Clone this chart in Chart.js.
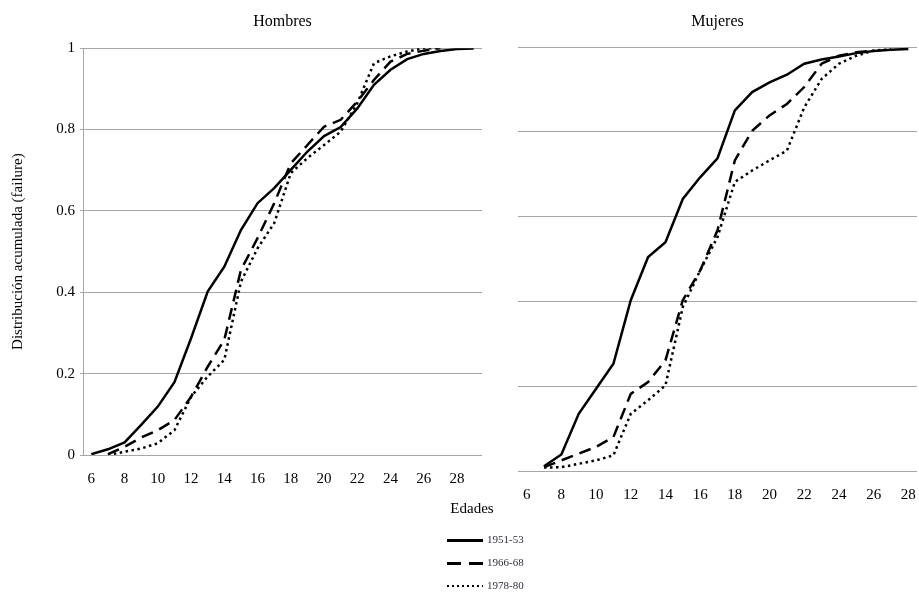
<!DOCTYPE html>
<html>
<head>
<meta charset="utf-8">
<script src="https://cdn.jsdelivr.net/npm/chart.js@4.4.1/dist/chart.umd.min.js"></script>
<style>
    body { margin: 0; background: #fff; width: 919px; height: 595px; position: relative; overflow: hidden; font-family: "Liberation Serif", serif; }
    canvas { position: absolute; top: 0; }
    #legend { position: absolute; left: 420px; top: 500px; width: 110px; }
    #legend .head { text-align: center; font-size: 15px; color: #000; width: 104px; }
    #legend .row { position: absolute; left: 27px; height: 14px; font-size: 11px; color: #2f2f3f; }
    #legend .sample { position: absolute; left: 0; top: 6px; width: 36px; height: 3px; background: #000; }
    #legend .dash { background: repeating-linear-gradient(90deg, #000 0 14px, transparent 14px 22px); }
    #legend .dot { height: 2px; background: repeating-linear-gradient(90deg, #000 0 2px, transparent 2px 5px); }
    #legend .txt { position: absolute; left: 40px; top: 0; white-space: nowrap; }
</style>
</head>
<body>
<canvas id="hombresChart" width="500" height="500" style="left:0"></canvas>
<canvas id="mujeresChart" width="419" height="516" style="left:500px"></canvas>
<div id="legend">
    <div class="head">Edades</div>
    <div class="row" style="top:33px"><div class="sample"></div><div class="txt">1951-53</div></div>
    <div class="row" style="top:56px"><div class="sample dash"></div><div class="txt">1966-68</div></div>
    <div class="row" style="top:79px"><div class="sample dot"></div><div class="txt">1978-80</div></div>
</div>
<script>
// Ages (x axis categories)
const edadesHombres = [6, 7, 8, 9, 10, 11, 12, 13, 14, 15, 16, 17, 18, 19, 20, 21, 22, 23, 24, 25, 26, 27, 28, 29];
const edadesMujeres = [6, 7, 8, 9, 10, 11, 12, 13, 14, 15, 16, 17, 18, 19, 20, 21, 22, 23, 24, 25, 26, 27, 28];

// Cumulative distribution, men
const hombres1951 = [0.002, 0.014, 0.031, 0.074, 0.119, 0.179, 0.287, 0.402, 0.463, 0.553, 0.619, 0.656, 0.701, 0.746, 0.784, 0.806, 0.852, 0.910, 0.947, 0.973, 0.986, 0.993, 0.998, 0.999];
const hombres1966 = [null, 0.002, 0.020, 0.043, 0.061, 0.086, 0.143, 0.217, 0.283, 0.455, 0.533, 0.619, 0.717, 0.762, 0.807, 0.824, 0.869, 0.922, 0.967, 0.986, 0.994, 1.000];
const hombres1978 = [null, 0.000, 0.008, 0.016, 0.029, 0.061, 0.143, 0.193, 0.234, 0.426, 0.508, 0.570, 0.693, 0.730, 0.762, 0.795, 0.865, 0.963, 0.980, 0.992, 1.000, 1.000];

// Cumulative distribution, women
const mujeres1951 = [null, 0.011, 0.039, 0.135, 0.194, 0.253, 0.403, 0.505, 0.540, 0.642, 0.693, 0.738, 0.851, 0.894, 0.917, 0.935, 0.961, 0.971, 0.978, 0.986, 0.991, 0.994, 0.996];
const mujeres1966 = [null, 0.009, 0.025, 0.041, 0.057, 0.080, 0.182, 0.210, 0.261, 0.403, 0.473, 0.568, 0.733, 0.803, 0.839, 0.866, 0.906, 0.961, 0.980, 0.988, 0.992];
const mujeres1978 = [null, 0.008, 0.009, 0.017, 0.025, 0.037, 0.135, 0.167, 0.202, 0.387, 0.473, 0.552, 0.682, 0.709, 0.733, 0.756, 0.858, 0.925, 0.961, 0.980, 0.992, 0.995];

const yTicks = [0, 0.2, 0.4, 0.6, 0.8, 1];
const serif = "'Liberation Serif', 'Times New Roman', serif";
const gridColor = '#a6a6a6';

Chart.defaults.font.family = serif;
Chart.defaults.color = '#000';

function makeDatasets(a, b, c) {
    const common = { borderColor: '#000', borderWidth: 2.5, pointRadius: 0, tension: 0, fill: false, spanGaps: false };
    return [
        Object.assign({ label: '1951-53', data: a }, common),
        Object.assign({ label: '1966-68', data: b, borderDash: [12, 7] }, common),
        Object.assign({ label: '1978-80', data: c, borderDash: [2.5, 3.5] }, common)
    ];
}

function makeOptions(title, showY, yWidth, titleBottom, padRight) {
    return {
        responsive: false,
        animation: false,
        layout: { padding: { left: 0, right: padRight, top: 0, bottom: 0 } },
        plugins: {
            legend: { display: false },
            tooltip: { enabled: false },
            title: {
                display: true, text: title, fullSize: false,
                font: { size: 16, weight: 'normal', family: serif },
                color: '#000',
                padding: { top: 12, bottom: titleBottom }
            }
        },
        scales: {
            x: {
                type: 'category',
                offset: true,
                grid: { display: false, drawTicks: false },
                border: { display: false },
                ticks: {
                    autoSkip: false, maxRotation: 0, padding: 15,
                    font: { size: 15, family: serif }, color: '#000',
                    callback: function (v) {
                        const lbl = this.getLabelForValue(v);
                        return lbl % 2 === 0 ? String(lbl) : '';
                    }
                },
                afterFit: function (s) {
                    s.height = 45;
                    s.paddingLeft = 0;
                    s.paddingRight = 0;
                }
            },
            y: {
                min: 0, max: 1,
                afterBuildTicks: function (s) { s.ticks = yTicks.map(v => ({ value: v })); },
                grid: { color: gridColor, lineWidth: 1, drawTicks: showY, tickLength: 3 },
                border: { display: showY, color: gridColor },
                ticks: {
                    display: showY, padding: 5,
                    font: { size: 15, family: serif }, color: '#000',
                    callback: v => String(Math.round(v * 10) / 10)
                },
                title: {
                    display: showY, text: 'Distribución acumulada (failure)',
                    font: { size: 15, family: serif }, color: '#000',
                    padding: { top: 9, bottom: 0 }
                },
                afterFit: function (s) { s.width = yWidth; }
            }
        }
    };
}

new Chart(document.getElementById('hombresChart').getContext('2d'), {
    type: 'line',
    data: { labels: edadesHombres, datasets: makeDatasets(hombres1951, hombres1966, hombres1978) },
    options: makeOptions('Hombres', true, 83, 17, 18)
});

new Chart(document.getElementById('mujeresChart').getContext('2d'), {
    type: 'line',
    data: { labels: edadesMujeres, datasets: makeDatasets(mujeres1951, mujeres1966, mujeres1978) },
    options: makeOptions('Mujeres', false, 18, 16, 2)
});
</script>
</body>
</html>
